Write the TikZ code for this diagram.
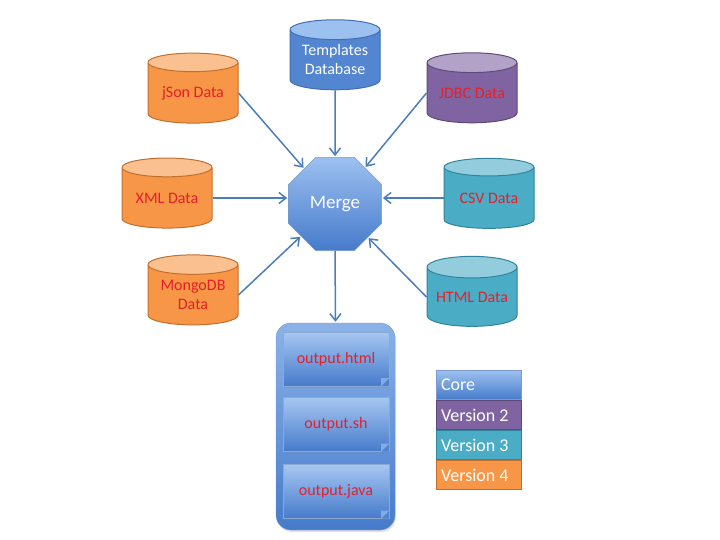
\documentclass[tikz,border=0pt]{standalone}
\usepackage{fontspec}
\setmainfont{Carlito}
\usetikzlibrary{arrows.meta,shapes.geometric,positioning,shadows}
\definecolor{linkblue}{HTML}{4A7EBB}
\definecolor{labelred}{HTML}{E3202B}
\definecolor{coretop}{HTML}{9CC0F0}
\definecolor{corebot}{HTML}{467BCB}
\definecolor{coreline}{HTML}{3F6FB5}
\definecolor{orangebody}{HTML}{F79646}
\definecolor{orangetop}{HTML}{FAC090}
\definecolor{orangeline}{HTML}{C0702E}
\definecolor{purplebody}{HTML}{8064A2}
\definecolor{purpletop}{HTML}{B3A2C7}
\definecolor{purpleline}{HTML}{5E4A7A}
\definecolor{tealbody}{HTML}{4BACC6}
\definecolor{tealtop}{HTML}{93CDDD}
\definecolor{tealline}{HTML}{31849B}

\begin{document}
\begin{tikzpicture}[x=1pt,y=-1pt,
font=\fontsize{16}{19}\selectfont,
db/.style={cylinder,shape border rotate=90,aspect=0.3,minimum width=90pt,minimum height=70pt,
  cylinder uses custom fill,line width=1pt,draw,text=labelred,align=center,inner sep=0pt},
orangedb/.style={db,draw=orangeline,cylinder body fill=orangebody,cylinder end fill=orangetop},
purpledb/.style={db,draw=purpleline,cylinder body fill=purplebody,cylinder end fill=purpletop},
tealdb/.style={db,draw=tealline,cylinder body fill=tealbody,cylinder end fill=tealtop},
bluedb/.style={db,draw=coreline,cylinder body fill=corebot!85!coretop,cylinder end fill=coretop,text=white},
feed/.style={-{Straight Barb[length=7pt,width=11pt]},draw=linkblue,line width=1.5pt,shorten >=1pt},
outfile/.style={rectangle,minimum width=106pt,minimum height=54pt,top color=coretop!90!white,bottom color=corebot,
  draw=coreline!60,text=labelred,drop shadow={opacity=0.25,shadow xshift=1pt,shadow yshift=-1.5pt}},
legend/.style={rectangle,minimum width=85pt,minimum height=29pt,text width=75pt,align=flush left,
  text=white,font=\fontsize{18}{21}\selectfont,line width=1pt}]
    \useasboundingbox (0,0) rectangle (720,540);

    % Data sources
    \node[bluedb] (tmpl) at (335,60) {Templates\\Database};
    \node[orangedb] (json) at (193,93) {jSon Data};
    \node[orangedb] (xml) at (167,198) {XML Data};
    \node[orangedb] (mongo) at (193,295) {MongoDB\\Data};
    \node[purpledb] (jdbc) at (472,93) {JDBC Data};
    \node[tealdb] (csv) at (489,198) {CSV Data};
    \node[tealdb] (html) at (472,297) {HTML Data};

    % Merge
    \node[regular polygon,regular polygon sides=8,minimum size=101pt,inner sep=0pt,
      top color=coretop,bottom color=corebot,draw=coreline!70,
      text=white,font=\fontsize{19}{22}\selectfont] (merge) at (335,204) {Merge};

    % Output files
    \node[rectangle,rounded corners=15pt,minimum width=119pt,minimum height=207pt,
      top color=coretop!80!corebot,bottom color=corebot,draw=coreline!70,
      drop shadow={opacity=0.25,shadow xshift=1pt,shadow yshift=-2pt}] (out) at (335.5,426.5) {};
    \node[outfile] (ohtml) at (336,359) {output.html};
    \node[outfile] (osh) at (336,424.5) {output.sh};
    \node[outfile] (ojava) at (336,491.5) {output.java};
    \foreach \f in {ohtml,osh,ojava} {
      \fill[corebot!90!coretop] ([xshift=-8pt]\f.south east) -- (\f.south east) -- ([yshift=8pt]\f.south east) -- cycle;
      \fill[coretop!70!corebot] ([xshift=-8pt]\f.south east) -- ([yshift=8pt]\f.south east)
        -- ([xshift=-8pt,yshift=8pt]\f.south east) -- cycle;
    }

    % Arrows
    \draw[feed] (tmpl.south) -- (merge.north);
    \draw[feed] (json.east) -- (merge);
    \draw[feed] (mongo.east) -- (merge);
    \draw[feed] (jdbc.west) -- (merge);
    \draw[feed] (html.west) -- (merge);
    \draw[feed] (xml.east) -- (xml.east -| merge.west);
    \draw[feed] (csv.west) -- (csv.west -| merge.east);
    \draw[feed] (merge.south) -- (out.north);

    % Legend
    \node[legend,top color=coretop,bottom color=corebot,draw=coreline!70] (core) at (478.5,385) {Core};
    \node[legend,fill=purplebody,draw=purpleline,below=0pt of core] (v2) {Version 2};
    \node[legend,fill=tealbody,draw=tealline,below=0pt of v2] (v3) {Version 3};
    \node[legend,fill=orangebody,draw=orangeline,below=0pt of v3] (v4) {Version 4};
\end{tikzpicture}
\end{document}
